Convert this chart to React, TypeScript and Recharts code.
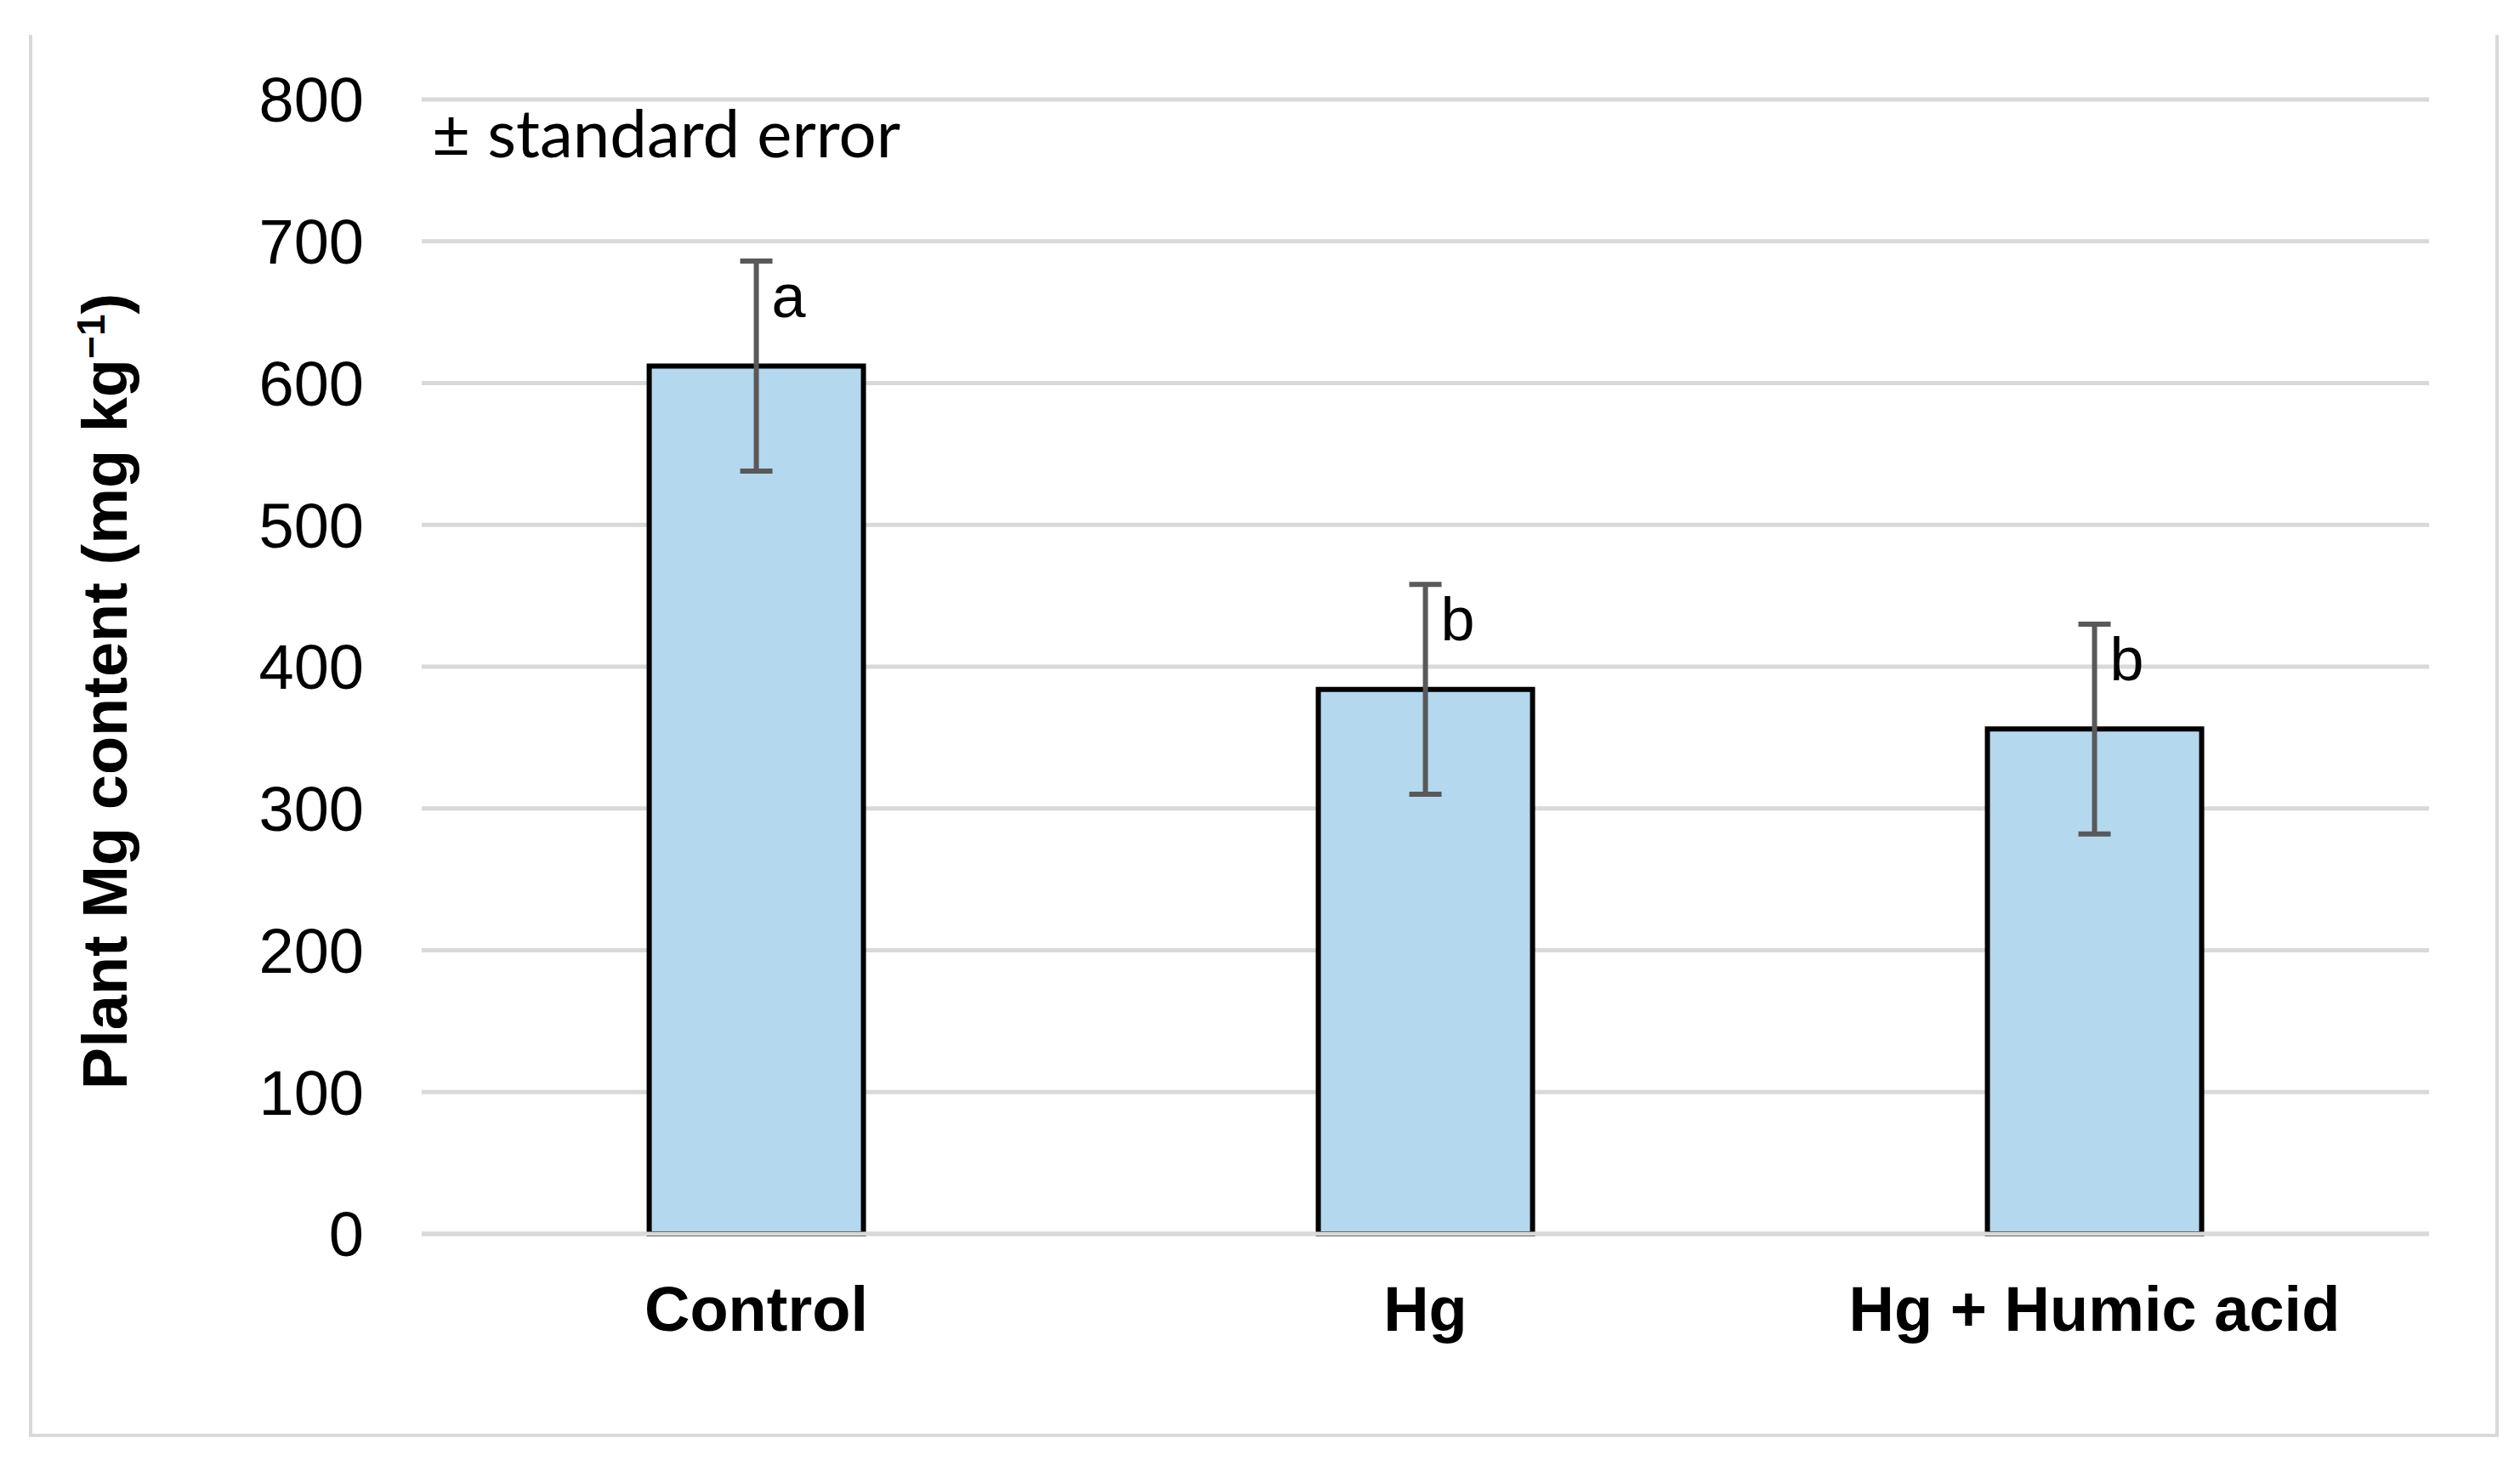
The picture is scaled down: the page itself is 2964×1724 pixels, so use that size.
import React from 'react';
import { BarChart, Bar, XAxis, YAxis, CartesianGrid, ErrorBar, LabelList, Customized } from 'recharts';

const treatments = ['Control', 'Hg', 'Hg + Humic acid'];
const mgContent = [612, 384, 356];
const stdError = [74, 74, 74];
const letters = ['a', 'b', 'b'];
const yTicks = [0, 100, 200, 300, 400, 500, 600, 700, 800];

const FONT = '"Liberation Sans", Arial, sans-serif';

const data = treatments.map((name, i) => ({ name, value: mgContent[i], err: stdError[i] }));

function LetterLabel(props: any) {
  const { x, y, width, height, value, index } = props;
  const pxPerUnit = height / value;
  const errTop = y - stdError[index] * pxPerUnit;
  return (
    <text
      x={x + width / 2 + 18}
      y={errTop + 66}
      fontFamily={FONT}
      fontSize={72}
      fill="#000"
      textAnchor="start"
    >
      {letters[index]}
    </text>
  );
}

function Annotations() {
  return (
    <g>
      <text
        transform="translate(149, 813) rotate(-90)"
        textAnchor="middle"
        fontFamily={FONT}
        fontWeight="bold"
        fontSize={74}
        fill="#000"
      >
        Plant Mg content (mg kg
        <tspan dy={-26} fontSize={46}>−1</tspan>
        <tspan dy={26}>)</tspan>
      </text>
      <text x={508} y={185} fontFamily="Lato, 'Open Sans', sans-serif" fontSize={78} fill="#000">
        ± standard error
      </text>
    </g>
  );
}

export default function App() {
  return (
    <div style={{ position: 'absolute', left: 0, top: 0, width: 2964, height: 1724, background: '#fff' }}>
      <div
        style={{
          position: 'absolute',
          left: 34,
          top: 41,
          width: 2939 - 34,
          height: 1690 - 41,
          borderLeft: '4px solid #d9d9d9',
          borderRight: '4px solid #d9d9d9',
          borderBottom: '4px solid #d9d9d9',
          boxSizing: 'border-box',
        }}
      />
      <div style={{ position: 'absolute', left: 0, top: 0 }}>
        <BarChart
          width={2964}
          height={1724}
          data={data}
          margin={{ top: 117, right: 107, bottom: 173, left: 296 }}
          barCategoryGap="34%"
        >
          <CartesianGrid vertical={false} stroke="#d9d9d9" strokeWidth={5} />
          <XAxis
            dataKey="name"
            height={100}
            axisLine={{ stroke: '#d9d9d9', strokeWidth: 5 }}
            tickLine={false}
            tickMargin={55}
            tick={{ fontFamily: FONT, fontWeight: 'bold', fontSize: 74, fill: '#000' }}
          />
          <YAxis
            width={200}
            domain={[0, 800]}
            ticks={yTicks}
            axisLine={false}
            tickLine={false}
            tickMargin={62}
            tick={{ fontFamily: FONT, fontSize: 74, fill: '#000' }}
          />
          <Bar dataKey="value" fill="#b4d8ee" stroke="#000" strokeWidth={6} isAnimationActive={false}>
            <ErrorBar dataKey="err" width={19} strokeWidth={6} stroke="#595959" direction="y" />
            <LabelList dataKey="value" content={LetterLabel} />
          </Bar>
          <Customized component={Annotations} />
        </BarChart>
      </div>
    </div>
  );
}
